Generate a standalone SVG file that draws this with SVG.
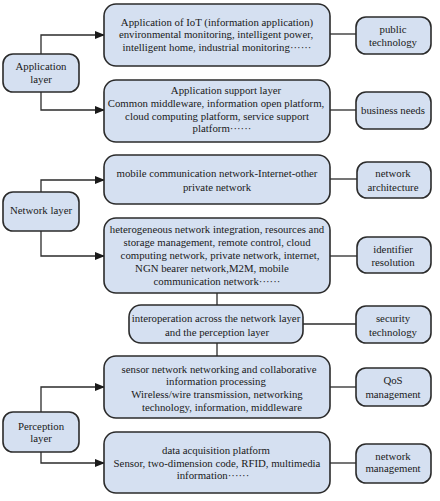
<svg xmlns="http://www.w3.org/2000/svg" width="440" height="501" viewBox="0 0 440 501">
<style>
.b{fill:#d5e0f1;stroke:#2b2b2b;stroke-width:1.6}
text{font-family:'Liberation Serif','Times New Roman','DejaVu Serif',serif;font-size:10.8px;fill:#1a1a1a;text-anchor:middle}
.c{fill:none;stroke:#2b2b2b;stroke-width:1.3}
</style>
<defs>
<marker id="a" markerWidth="10" markerHeight="8" refX="9" refY="4" orient="auto" markerUnits="userSpaceOnUse">
<path d="M0,0 L10,4 L0,8 Z" fill="#1a1a1a"/>
</marker>
</defs>
<rect width="440" height="501" fill="#fff"/>
<g id="connectors">
<path class="c" d="M41,54 V35 H104" marker-end="url(#a)"/>
<path class="c" d="M41,92 V110 H104" marker-end="url(#a)"/>
<path class="c" d="M41,192 V180 H104" marker-end="url(#a)"/>
<path class="c" d="M41,231 V256 H104" marker-end="url(#a)"/>
<path class="c" d="M41,412 V387 H104" marker-end="url(#a)"/>
<path class="c" d="M41,452 V463 H104" marker-end="url(#a)"/>
<path class="c" d="M330,34 H356"/>
<path class="c" d="M330,110 H356"/>
<path class="c" d="M330,179 H357"/>
<path class="c" d="M330,256 H357"/>
<path class="c" d="M303,324 H356"/>
<path class="c" d="M330,387 H356"/>
<path class="c" d="M330,463 H356"/>
<path class="c" d="M217,293 V305"/>
<path class="c" d="M217,343 V356"/>
</g>
<g id="app-layer"><rect class="b" x="3" y="54" width="76" height="38" rx="10"/><text x="41" y="70">Application</text><text x="41" y="83">layer</text></g>
<g id="net-layer"><rect class="b" x="3" y="192" width="76" height="39" rx="10"/><text x="41" y="214">Network layer</text></g>
<g id="per-layer"><rect class="b" x="3" y="412" width="76" height="40" rx="10"/><text x="41" y="430">Perception</text><text x="41" y="442">layer</text></g>
<g id="box1"><rect class="b" x="104" y="4" width="226" height="62" rx="12"/>
<text x="217" y="26">Application of IoT (information application)</text>
<text x="216" y="38">environmental monitoring, intelligent power,</text>
<text x="217" y="51">intelligent home, industrial monitoring······</text></g>
<g id="box2"><rect class="b" x="104" y="80" width="226" height="62" rx="12"/>
<text x="226" y="94">Application support layer</text>
<text x="216" y="107">Common middleware, information open platform,</text>
<text x="217" y="120">cloud computing platform, service support</text>
<text x="222" y="132">platform······</text></g>
<g id="box3"><rect class="b" x="104" y="155" width="226" height="49" rx="12"/>
<text x="217" y="177">mobile communication network-Internet-other</text>
<text x="217" y="191">private network</text></g>
<g id="box4"><rect class="b" x="104" y="218" width="226" height="75" rx="12"/>
<text x="217" y="233">heterogeneous network integration, resources and</text>
<text x="217" y="246">storage management, remote control, cloud</text>
<text x="220" y="259">computing network, private network, internet,</text>
<text x="212" y="272">NGN bearer network,M2M, mobile</text>
<text x="217" y="285">communication network······</text></g>
<g id="box5"><rect class="b" x="129" y="305" width="174" height="38" rx="12"/>
<text x="216" y="322">interoperation across the network layer</text>
<text x="217" y="336">and the perception layer</text></g>
<g id="box6"><rect class="b" x="104" y="356" width="226" height="62" rx="12"/>
<text x="219" y="373">sensor network networking and collaborative</text>
<text x="216" y="385">information processing</text>
<text x="217" y="398">Wireless/wire transmission, networking</text>
<text x="222" y="411">technology, information, middleware</text></g>
<g id="box7"><rect class="b" x="104" y="432" width="226" height="61" rx="12"/>
<text x="216" y="454">data acquisition platform</text>
<text x="217" y="467">Sensor, two-dimension code, RFID, multimedia</text>
<text x="213" y="479">information······</text></g>
<g id="r1"><rect class="b" x="356" y="17" width="75" height="37" rx="10"/><text x="393" y="33">public</text><text x="393" y="46">technology</text></g>
<g id="r2"><rect class="b" x="356" y="92" width="75" height="37" rx="10"/><text x="393" y="114">business needs</text></g>
<g id="r3"><rect class="b" x="357" y="162" width="74" height="36" rx="10"/><text x="393" y="177">network</text><text x="393" y="191">architecture</text></g>
<g id="r4"><rect class="b" x="357" y="237" width="74" height="36" rx="10"/><text x="393" y="253">identifier</text><text x="393" y="266">resolution</text></g>
<g id="r5"><rect class="b" x="356" y="306" width="75" height="37" rx="10"/><text x="393" y="322">security</text><text x="393" y="336">technology</text></g>
<g id="r6"><rect class="b" x="356" y="368" width="75" height="38" rx="10"/><text x="393" y="384">QoS</text><text x="393" y="398">management</text></g>
<g id="r7"><rect class="b" x="356" y="444" width="75" height="39" rx="10"/><text x="393" y="460">network</text><text x="393" y="472">management</text></g>
</svg>
